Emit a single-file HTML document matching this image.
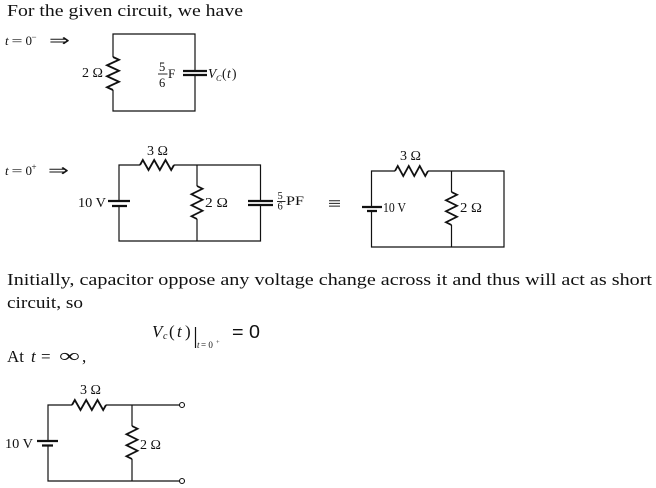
<!DOCTYPE html>
<html><head><meta charset="utf-8"><style>
html,body{margin:0;padding:0;background:#fff;}
svg{display:block;}
text{font-family:"Liberation Serif",serif;fill:#111;}
.w{stroke:#111;stroke-width:1.2;fill:none;}
.p{stroke:#111;stroke-width:2.2;fill:none;}
.r{stroke:#111;stroke-width:1.8;fill:none;stroke-linejoin:miter;}
</style></head><body>
<svg width="656" height="488" viewBox="0 0 656 488" xmlns="http://www.w3.org/2000/svg">
<!-- Title -->
<text x="7" y="16" font-size="17" textLength="236" lengthAdjust="spacingAndGlyphs">For the given circuit, we have</text>
<!-- t=0- -->
<text x="5" y="45" font-size="13" font-style="italic">t</text>
<text x="11.5" y="45" font-size="13" textLength="11" lengthAdjust="spacingAndGlyphs">=</text>
<text x="25.5" y="45" font-size="13">0</text>
<text x="31.5" y="40" font-size="9">−</text>
<text x="49" y="46" font-size="17" textLength="21" lengthAdjust="spacingAndGlyphs">⇒</text>

<!-- Circuit 1 -->
<path class="w" d="M113 57 V34 H195 V71 M195 75 V111 H113 V90"/>
<path class="r" d="M113 57 L119 59.75 L107 65.25 L119 70.75 L107 76.25 L119 81.75 L107 87.25 L113 90"/>
<path class="p" d="M183 71 H207 M183 75 H207"/>
<text x="82" y="77" font-size="13.5" textLength="21" lengthAdjust="spacingAndGlyphs">2 Ω</text>
<text x="159" y="71" font-size="12.5">5</text>
<path d="M158 74 H167.5" stroke="#111" stroke-width="0.9"/>
<text x="159" y="87" font-size="12.5">6</text>
<text x="168" y="78" font-size="13">F</text>
<text x="208" y="78" font-size="13.5" font-style="italic">V</text>
<text x="216" y="81" font-size="8.5" font-style="italic">C</text>
<text x="222" y="78" font-size="13.5">(</text>
<text x="227" y="78" font-size="13.5" font-style="italic">t</text>
<text x="232" y="78" font-size="13.5">)</text>

<!-- t=0+ -->
<text x="5" y="175" font-size="13" font-style="italic">t</text>
<text x="11.5" y="175" font-size="13" textLength="11" lengthAdjust="spacingAndGlyphs">=</text>
<text x="25.5" y="175" font-size="13">0</text>
<text x="31.5" y="170" font-size="9">+</text>
<text x="48" y="176" font-size="17" textLength="21" lengthAdjust="spacingAndGlyphs">⇒</text>

<!-- Circuit 2 -->
<path class="w" d="M140 165 H119 V201 M119 206 V241 H260.5 V205 M260.5 201 V165 H174 M197 165 V186 M197 219 V241"/>
<path class="r" d="M140 165 L142.83 160 L148.5 170 L154.17 160 L159.83 170 L165.5 160 L171.17 170 L174 165"/>
<path class="r" d="M197 186 L202.5 188.75 L191.5 194.25 L202.5 199.75 L191.5 205.25 L202.5 210.75 L191.5 216.25 L197 219"/>
<path class="p" d="M108 201 H130 M112 206 H127"/>
<path class="p" d="M248 201 H273 M248 205 H273"/>
<text x="147" y="155" font-size="13.5" textLength="21" lengthAdjust="spacingAndGlyphs">3 Ω</text>
<text x="78" y="207" font-size="13.5" textLength="28" lengthAdjust="spacingAndGlyphs">10 V</text>
<text x="205" y="207" font-size="13.5" textLength="23" lengthAdjust="spacingAndGlyphs">2 Ω</text>
<text x="277.5" y="199" font-size="10.5">5</text>
<path d="M277 201.5 H285.5" stroke="#111" stroke-width="0.9"/>
<text x="277.5" y="209.5" font-size="10.5">6</text>
<text x="286" y="205" font-size="13" textLength="18" lengthAdjust="spacingAndGlyphs">PF</text>
<path d="M329 200.7 H340 M329 203.4 H340 M329 206.1 H340" stroke="#222" stroke-width="1"/>

<!-- Circuit 3 -->
<path class="w" d="M395 171 H371.5 V207 M371.5 211 V247 H504 V171 H428 M451.5 171 V192 M451.5 225 V247"/>
<path class="r" d="M395 171 L397.75 166 L403.25 176 L408.75 166 L414.25 176 L419.75 166 L425.25 176 L428 171"/>
<path class="r" d="M451.5 192 L457 194.75 L446 200.25 L457 205.75 L446 211.25 L457 216.75 L446 222.25 L451.5 225"/>
<path class="p" d="M362 207 H382 M367 211 H377"/>
<text x="400" y="160" font-size="13.5" textLength="21" lengthAdjust="spacingAndGlyphs">3 Ω</text>
<text x="383" y="212" font-size="13.5" textLength="23" lengthAdjust="spacingAndGlyphs">10 V</text>
<text x="460" y="212" font-size="13.5" textLength="22" lengthAdjust="spacingAndGlyphs">2 Ω</text>

<!-- Body text -->
<text x="7" y="285" font-size="17" textLength="645" lengthAdjust="spacingAndGlyphs">Initially, capacitor oppose any voltage change across it and thus will act as short</text>
<text x="7" y="308" font-size="17" textLength="76" lengthAdjust="spacingAndGlyphs">circuit, so</text>

<!-- Math -->
<text x="152" y="337" font-size="17" font-style="italic">V</text>
<text x="163" y="339" font-size="10" font-style="italic">c</text>
<text x="169" y="337" font-size="17">(</text>
<text x="177" y="337" font-size="17" font-style="italic">t</text>
<text x="185" y="337" font-size="17">)</text>
<path d="M195.5 327 V348" stroke="#111" stroke-width="1.2"/>
<text x="197" y="348" font-size="9" font-style="italic">t</text>
<text x="201" y="348" font-size="9">= 0</text>
<text x="216" y="344" font-size="6.5">+</text>
<text x="232" y="338" font-size="18" style="font-family:'Liberation Sans',sans-serif" textLength="28" lengthAdjust="spacingAndGlyphs">= 0</text>

<!-- At t = inf -->
<text x="7" y="362" font-size="17">At</text>
<text x="31" y="362" font-size="17" font-style="italic">t</text>
<text x="41" y="362" font-size="17">=</text>
<text x="59" y="362" font-size="19" textLength="21" lengthAdjust="spacingAndGlyphs">∞</text>
<text x="82" y="362" font-size="17">,</text>

<!-- Circuit 4 -->
<path class="w" d="M72 405 H48 V441 M48 445 V481 H179.5 M106 405 H179.5 M132 405 V426 M132 459 V481"/>
<path class="r" d="M72 405 L74.83 400 L80.5 410 L86.17 400 L91.83 410 L97.5 400 L103.17 410 L106 405"/>
<path class="r" d="M132 426 L137.5 428.75 L126.5 434.25 L137.5 439.75 L126.5 445.25 L137.5 450.75 L126.5 456.25 L132 459"/>
<path class="p" d="M37 441 H58 M42 445.5 H53"/>
<circle cx="182" cy="405" r="2.5" fill="#fff" stroke="#111" stroke-width="1.1"/>
<circle cx="182" cy="481" r="2.5" fill="#fff" stroke="#111" stroke-width="1.1"/>
<text x="80" y="394" font-size="13.5" textLength="21" lengthAdjust="spacingAndGlyphs">3 Ω</text>
<text x="5" y="448" font-size="13.5" textLength="28" lengthAdjust="spacingAndGlyphs">10 V</text>
<text x="140" y="449" font-size="13.5" textLength="21" lengthAdjust="spacingAndGlyphs">2 Ω</text>
</svg>
</body></html>
